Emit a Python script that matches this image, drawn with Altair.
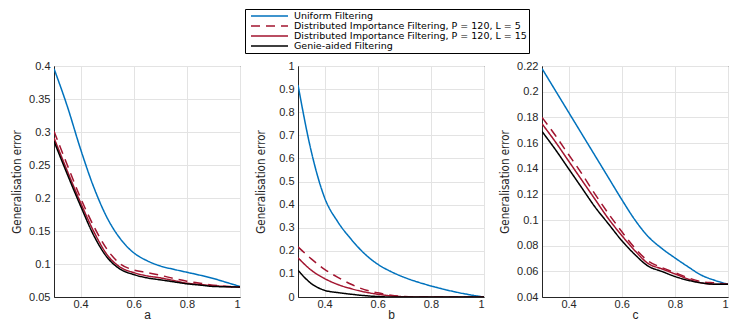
import altair as alt
import pandas as pd

x_vals = [0.30, 0.35, 0.40, 0.45, 0.50, 0.55, 0.60, 0.65, 0.70, 0.75, 0.80, 0.85, 0.90, 0.95, 1.00]

series_names = [
    "Uniform Filtering",
    "Distributed Importance Filtering, P = 120, L = 5",
    "Distributed Importance Filtering, P = 120, L = 15",
    "Genie-aided Filtering",
]

# panel a
a_uniform = [0.396, 0.339, 0.274, 0.216, 0.170, 0.138, 0.117, 0.105, 0.097, 0.092, 0.0875, 0.083, 0.078, 0.072, 0.066]
a_l5 = [0.301, 0.250, 0.200, 0.157, 0.122, 0.100, 0.091, 0.087, 0.083, 0.078, 0.074, 0.071, 0.068, 0.066, 0.065]
a_l15 = [0.291, 0.241, 0.193, 0.149, 0.114, 0.095, 0.087, 0.082, 0.079, 0.075, 0.071, 0.069, 0.067, 0.066, 0.065]
a_genie = [0.286, 0.236, 0.188, 0.143, 0.110, 0.092, 0.084, 0.079, 0.076, 0.073, 0.070, 0.068, 0.066, 0.0655, 0.065]

# panel b
b_uniform = [0.918, 0.630, 0.430, 0.325, 0.250, 0.188, 0.142, 0.110, 0.085, 0.065, 0.048, 0.033, 0.020, 0.009, 0.000]
b_l5 = [0.217, 0.165, 0.120, 0.085, 0.055, 0.032, 0.018, 0.008, 0.002, 0.000, 0.000, 0.000, 0.000, 0.000, 0.000]
b_l15 = [0.170, 0.116, 0.080, 0.054, 0.036, 0.022, 0.012, 0.005, 0.001, 0.000, 0.000, 0.000, 0.000, 0.000, 0.000]
b_genie = [0.116, 0.058, 0.029, 0.019, 0.012, 0.006, 0.002, 0.000, 0.000, 0.000, 0.000, 0.000, 0.000, 0.000, 0.000]

# panel c
c_uniform = [0.218, 0.201, 0.184, 0.167, 0.150, 0.133, 0.116, 0.100, 0.087, 0.078, 0.0705, 0.0635, 0.057, 0.053, 0.050]
c_l5 = [0.180, 0.166, 0.151, 0.136, 0.120, 0.105, 0.091, 0.078, 0.068, 0.063, 0.059, 0.055, 0.052, 0.051, 0.050]
c_l15 = [0.175, 0.161, 0.146, 0.131, 0.116, 0.101, 0.088, 0.076, 0.066, 0.062, 0.058, 0.054, 0.051, 0.050, 0.050]
c_genie = [0.169, 0.155, 0.140, 0.125, 0.110, 0.097, 0.084, 0.073, 0.064, 0.060, 0.056, 0.053, 0.051, 0.050, 0.050]

panels = [
    ("a", [a_uniform, a_l5, a_l15, a_genie], [0.05, 0.4], [0.05, 0.1, 0.15, 0.2, 0.25, 0.3, 0.35, 0.4]),
    ("b", [b_uniform, b_l5, b_l15, b_genie], [0.0, 1.0], [0, 0.1, 0.2, 0.3, 0.4, 0.5, 0.6, 0.7, 0.8, 0.9, 1]),
    ("c", [c_uniform, c_l5, c_l15, c_genie], [0.04, 0.22], [0.04, 0.06, 0.08, 0.1, 0.12, 0.14, 0.16, 0.18, 0.2, 0.22]),
]

colors = ["#0072BD", "#A2142F", "#A2142F", "#000000"]
dashes = [[1, 0], [9, 6], [1, 0], [1, 0]]
widths = [1.5, 1.5, 1.5, 2.0]

FONT = "Liberation Sans"
LEGEND_FONT = "DejaVu Sans"
NARROW = "DejaVu Sans Condensed, Liberation Sans Narrow, sans-serif"

charts = []
for name, series_vals, ydom, yticks in panels:
    rows = []
    for s, vals in zip(series_names, series_vals):
        for xv, yv in zip(x_vals, vals):
            rows.append({"x": xv, "y": yv, "series": s})
    df = pd.DataFrame(rows)
    ch = alt.Chart(df).mark_line(clip=True, interpolate="monotone").encode(
        x=alt.X("x:Q", title=name,
                scale=alt.Scale(domain=[0.3, 1.0], nice=False, zero=False),
                axis=alt.Axis(values=[0.4, 0.6, 0.8, 1.0], format="~g")),
        y=alt.Y("y:Q", title="Generalisation error",
                scale=alt.Scale(domain=ydom, nice=False, zero=False),
                axis=alt.Axis(values=yticks, format="~g", titleFont=NARROW, titleFontSize=11.5,
                              minExtent=25, maxExtent=25, titlePadding=7)),
        color=alt.Color("series:N", title=None,
                        scale=alt.Scale(domain=series_names, range=colors),
                        legend=alt.Legend(orient="none", legendX=191, legendY=-57,
                                          symbolType="M-0.25,0H9", symbolSize=64,
                                          symbolStrokeWidth=1.5, labelOffset=37,
                                          labelFont=LEGEND_FONT, labelFontSize=9.5, labelColor="#000",
                                          rowPadding=0, padding=2,
                                          strokeColor="#000", fillColor="#fff",
                                          labelLimit=400)),
        strokeDash=alt.StrokeDash("series:N", title=None,
                                  scale=alt.Scale(domain=series_names, range=dashes)),
        strokeWidth=alt.StrokeWidth("series:N", legend=None,
                                    scale=alt.Scale(domain=series_names, range=widths)),
    ).properties(width=186, height=231)
    charts.append(ch)

chart = alt.hconcat(*charts, spacing=13).properties(
    padding={"left": 2, "top": 0, "right": 5, "bottom": 0}
).configure_view(
    stroke="#262626", strokeWidth=1
).configure_axis(
    labelFont=FONT, labelFontSize=11, labelColor="#262626",
    titleFont=FONT, titleFontSize=12, titleFontWeight="normal", titleColor="#262626",
    gridColor="#e3e3e3", gridWidth=1,
    domainColor="#262626", ticks=False, labelPadding=4,
).configure_axisX(
    labelPadding=1, titlePadding=0,
)

chart.save("out.html", embed_options={"renderer": "svg", "actions": False})
